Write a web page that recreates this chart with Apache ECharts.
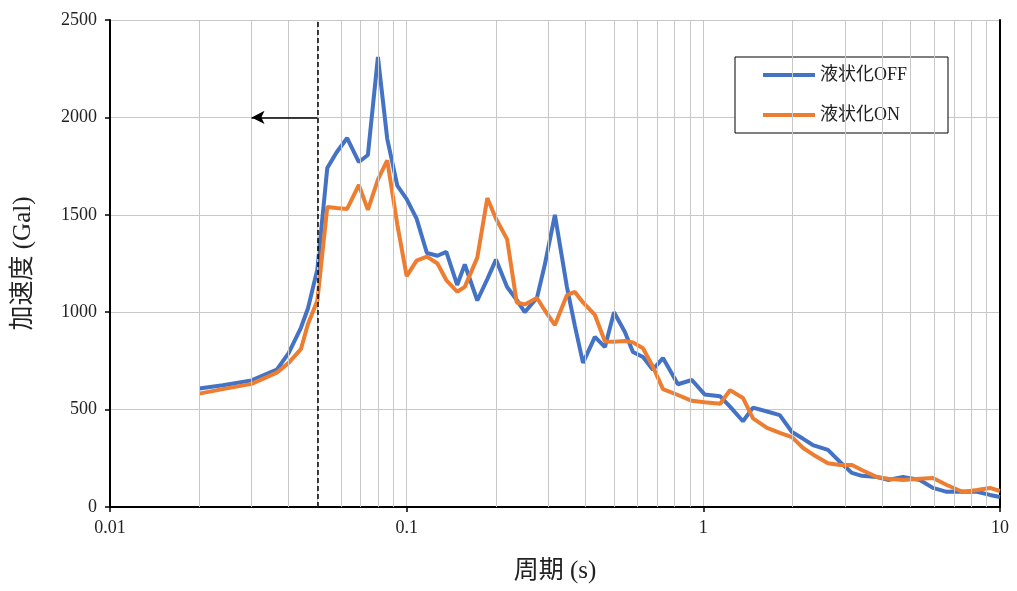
<!DOCTYPE html>
<html>
<head>
<meta charset="utf-8">
<script src="https://cdn.jsdelivr.net/npm/echarts@6/dist/echarts.min.js"></script>
<style>html,body{margin:0;padding:0;background:#fff;}#c{width:1017px;height:591px;}</style>
</head>
<body>
<div id="c"></div>
<script>
// Periods (s)
const periods = [0.02, 0.024, 0.03, 0.0365, 0.04, 0.044, 0.0465, 0.05, 0.054, 0.058, 0.063, 0.069, 0.074, 0.08, 0.086, 0.093, 0.1, 0.108, 0.117, 0.127, 0.136, 0.148, 0.157, 0.173, 0.187, 0.2, 0.218, 0.235, 0.25, 0.275, 0.292, 0.316, 0.347, 0.369, 0.393, 0.431, 0.466, 0.5, 0.544, 0.579, 0.626, 0.676, 0.731, 0.821, 0.915, 1.01, 1.14, 1.23, 1.36, 1.47, 1.64, 1.81, 1.99, 2.17, 2.34, 2.63, 2.89, 3.17, 3.42, 3.85, 4.19, 4.71, 5.37, 5.94, 6.62, 7.5, 8.36, 9.25, 10];
// 液状化OFF (Gal)
const offValues = [608, 625, 650, 705, 790, 920, 1020, 1220, 1740, 1820, 1894, 1771, 1807, 2310, 1890, 1650, 1580, 1480, 1304, 1290, 1310, 1140, 1245, 1060, 1170, 1270, 1129, 1063, 1000, 1075, 1242, 1500, 1129, 930, 740, 873, 821, 1000, 898, 796, 770, 705, 765, 630, 652, 578, 568, 515, 440, 510, 490, 472, 385, 350, 318, 293, 231, 175, 160, 154, 139, 154, 139, 98, 78, 80, 78, 62, 51];
// 液状化ON (Gal)
const onValues = [582, 605, 632, 690, 740, 810, 940, 1060, 1540, 1535, 1530, 1653, 1525, 1680, 1780, 1450, 1185, 1265, 1285, 1250, 1165, 1105, 1130, 1280, 1586, 1480, 1375, 1050, 1040, 1073, 1010, 934, 1088, 1104, 1050, 986, 850, 848, 852, 845, 815, 720, 605, 575, 545, 538, 530, 600, 560, 455, 406, 380, 359, 303, 270, 225, 216, 216, 190, 154, 145, 139, 145, 149, 113, 77, 87, 98, 82];
const seriesNames = ['液状化OFF', '液状化ON'];
const xTickLabels = ['0.01', '0.1', '1', '10'];
const minorGridPeriods = [0.02,0.03,0.04,0.05,0.06,0.07,0.08,0.09,0.2,0.3,0.4,0.5,0.6,0.7,0.8,0.9,2,3,4,5,6,7,8,9];
const limitPeriod = 0.05;
const arrowFrom = [0.05, 2000];
const arrowTo = [0.03, 2000];

const serif = '"Liberation Serif", "Noto Sans CJK JP", serif';
const chart = echarts.init(document.getElementById('c'));
const mk = vals => periods.map((p, i) => [p, vals[i]]);

chart.setOption({
  animation: false,
  backgroundColor: '#fff',
  grid: { left: 110, right: 17, top: 20, bottom: 84, containLabel: false },
  legend: {
    data: seriesNames,
    orient: 'vertical',
    left: 735, top: 57,
    padding: [9, 33, 9, 28],
    itemGap: 22,
    itemWidth: 52, itemHeight: 4,
    icon: 'rect',
    borderColor: '#000', borderWidth: 1, borderRadius: 0,
    backgroundColor: '#fff',
    textStyle: { fontFamily: serif, fontSize: 18, color: '#222', lineHeight: 18, width: 95 }
  },
  xAxis: {
    type: 'log', logBase: 10, min: 0.01, max: 10,
    name: '周期 (s)', nameLocation: 'middle', nameGap: 52,
    nameTextStyle: { fontFamily: serif, fontSize: 25, color: '#222' },
    axisLine: { show: true, onZero: false, lineStyle: { color: '#000', width: 2 } },
    axisTick: { show: true, inside: false, length: 5, lineStyle: { color: '#000', width: 1.5 } },
    axisLabel: {
      fontFamily: serif, fontSize: 18, color: '#222', margin: 12,
      formatter: v => xTickLabels[Math.round(Math.log10(v)) + 2]
    },
    splitLine: { show: true, lineStyle: { color: '#c8c8c8', width: 1 } },
    minorTick: { show: false }
  },
  yAxis: [{
    type: 'value', min: 0, max: 2500, interval: 500,
    name: '加速度 (Gal)', nameLocation: 'middle', nameGap: 74, nameRotate: 90,
    nameTextStyle: { fontFamily: serif, fontSize: 25, color: '#222' },
    axisLine: { show: true, lineStyle: { color: '#000', width: 2 } },
    axisTick: { show: true, length: 5, lineStyle: { color: '#000', width: 1.5 } },
    axisLabel: { fontFamily: serif, fontSize: 18, color: '#222', margin: 13, formatter: v => String(v) },
    splitLine: { show: true, lineStyle: { color: '#c8c8c8', width: 1 } }
  }, {
    type: 'value', min: 0, max: 2500, interval: 500, position: 'right',
    axisLine: { show: true, lineStyle: { color: '#000', width: 2 } },
    axisTick: { show: false }, axisLabel: { show: false }, splitLine: { show: false }
  }],
  series: [
    {
      name: 'grid-minor', type: 'line', data: [], z: 1, silent: true,
      markLine: {
        silent: true, symbol: ['none', 'none'], animation: false,
        label: { show: false },
        lineStyle: { color: '#c8c8c8', width: 1, type: 'solid' },
        data: minorGridPeriods.map(p => ({ xAxis: p }))
      }
    },
    {
      name: seriesNames[0], type: 'line', data: mk(offValues), z: 3,
      showSymbol: false, symbol: 'none',
      lineStyle: { color: '#4472C4', width: 4 }, itemStyle: { color: '#4472C4' }
    },
    {
      name: seriesNames[1], type: 'line', data: mk(onValues), z: 4,
      showSymbol: false, symbol: 'none',
      lineStyle: { color: '#ED7D31', width: 4 }, itemStyle: { color: '#ED7D31' }
    },
    {
      name: 'annot-limit', type: 'line', data: [], z: 6, silent: true,
      markLine: {
        silent: true, animation: false, label: { show: false },
        symbol: ['none', 'none'],
        lineStyle: { color: '#000', width: 1.5, type: [5, 3] },
        data: [{ xAxis: limitPeriod }]
      }
    },
    {
      name: 'annot-arrow', type: 'line', data: [], z: 6, silent: true,
      markLine: {
        silent: true, animation: false, label: { show: false },
        symbol: ['none', 'arrow'], symbolSize: [10, 13],
        lineStyle: { color: '#000', width: 1.5, type: 'solid' },
        data: [[{ coord: arrowFrom }, { coord: arrowTo }]]
      }
    }
  ]
});
</script>
</body>
</html>
